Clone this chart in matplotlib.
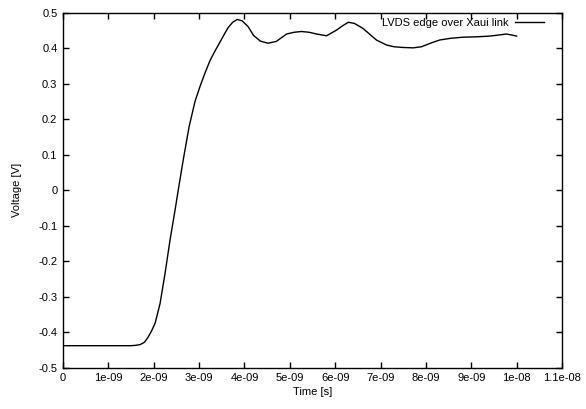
import matplotlib
matplotlib.use("Agg")
import matplotlib.pyplot as plt
import numpy as np

# Data (time in ns, voltage in V)
time_ns = [0.0, 0.5, 1.0, 1.5, 1.6, 1.7, 1.8, 1.88, 1.95, 2.03, 2.14, 2.25,
           2.36, 2.47, 2.54, 2.65, 2.78, 2.91, 3.02, 3.13, 3.24, 3.35, 3.46,
           3.55, 3.64, 3.74, 3.84, 3.95, 4.08, 4.2, 4.35, 4.52, 4.7, 4.93,
           5.1, 5.26, 5.42, 5.59, 5.81, 6.03, 6.15, 6.29, 6.42, 6.61, 6.8,
           6.91, 7.13, 7.3, 7.5, 7.72, 7.9, 8.1, 8.3, 8.55, 8.82, 9.1, 9.4,
           9.6, 9.77, 9.9, 10.0]
voltage = [-0.438, -0.438, -0.438, -0.438, -0.437, -0.435, -0.428, -0.413,
           -0.397, -0.375, -0.319, -0.234, -0.140, -0.056, 0.0, 0.085, 0.179,
           0.25, 0.292, 0.33, 0.365, 0.392, 0.417, 0.438, 0.458, 0.473,
           0.481, 0.477, 0.461, 0.436, 0.42, 0.414, 0.419, 0.44, 0.445,
           0.447, 0.445, 0.44, 0.435, 0.451, 0.462, 0.473, 0.470, 0.456,
           0.435, 0.423, 0.409, 0.404, 0.402, 0.401, 0.404, 0.414, 0.423,
           0.428, 0.431, 0.432, 0.434, 0.437, 0.44, 0.437, 0.434]
series_label = "LVDS edge over Xaui link"
x_ticks = [0, 1e-9, 2e-9, 3e-9, 4e-9, 5e-9, 6e-9, 7e-9, 8e-9, 9e-9, 1e-8, 1.1e-8]
x_tick_labels = ["0", "1e-09", "2e-09", "3e-09", "4e-09", "5e-09", "6e-09",
                 "7e-09", "8e-09", "9e-09", "1e-08", "1.1e-08"]
y_ticks = [-0.5, -0.4, -0.3, -0.2, -0.1, 0, 0.1, 0.2, 0.3, 0.4, 0.5]
y_tick_labels = ["-0.5", "-0.4", "-0.3", "-0.2", "-0.1", "0", "0.1", "0.2",
                 "0.3", "0.4", "0.5"]

plt.rcParams['font.family'] = ['Liberation Sans', 'DejaVu Sans']

fig = plt.figure(figsize=(5.86, 4.09), dpi=100)
ax = fig.add_axes([63/586, 1-367.7/409, (562-63)/586, (367.7-12.7)/409])

t = np.array(time_ns) * 1e-9
ax.plot(t, voltage, color='black', linewidth=1.0, label=series_label,
        solid_joinstyle='round')

ax.set_xlim(0, 1.1e-8)
ax.set_ylim(-0.5, 0.5)
ax.set_xticks(x_ticks)
ax.set_xticklabels(x_tick_labels)
ax.set_yticks(y_ticks)
ax.set_yticklabels(y_tick_labels)
ax.tick_params(direction='in', length=4, width=1, top=True, right=True,
               labelsize=8, colors='black', pad=4)
for s in ax.spines.values():
    s.set_linewidth(1.0)

ax.set_xlabel("Time [s]", fontsize=8, labelpad=3)
ax.set_ylabel("Voltage [V]", fontsize=8, labelpad=12)

leg = ax.legend(loc='upper right', frameon=False, fontsize=8, markerfirst=False,
                handlelength=2.6, borderaxespad=0.1, handletextpad=0.6,
                bbox_to_anchor=(0.975, 1.0))

fig.savefig("out.png", dpi=100)
